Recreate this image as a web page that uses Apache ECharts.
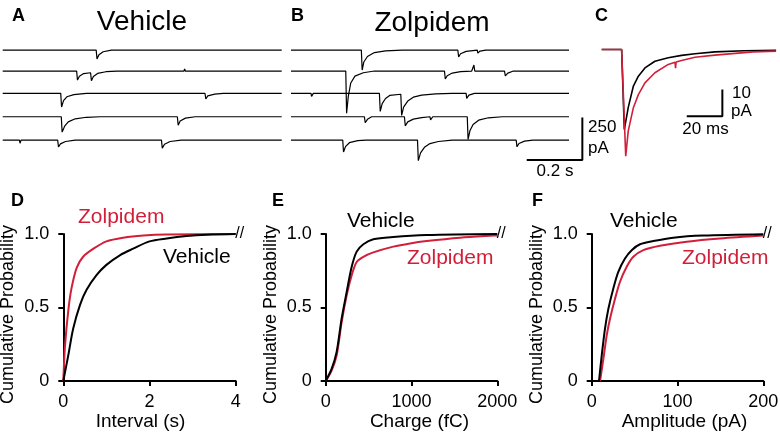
<!DOCTYPE html>
<html>
<head>
<meta charset="utf-8">
<script src="https://cdn.jsdelivr.net/npm/echarts@6/dist/echarts.min.js"></script>
<style>
  html, body { margin: 0; padding: 0; background: #fff; }
  #main { width: 780px; height: 432px; }
</style>
</head>
<body>
<div id="main"></div>
<script>
const RED = '#d11f3a';
const FONT = '"Liberation Sans", Arial, sans-serif';

// A: vehicle sweeps, [time (s), current (pA)] relative to each baseline
const vehSweep1 = [[0, 0], [0.335, 0], [0.338, -52], [0.345, -28], [0.36, -10], [0.39, 0], [1, 0]];
const vehSweep2 = [[0, 0], [0.265, 0], [0.268, -53], [0.275, -30], [0.29, -15], [0.315, -10], [0.318, -57], [0.325, -32], [0.34, -14], [0.37, -4], [0.41, 0], [0.65, 0], [0.652, 12], [0.655, 0], [1, 0]];
const vehSweep3 = [[0, 0], [0.208, 0], [0.211, -80], [0.218, -42], [0.23, -20], [0.255, -7], [0.3, 0], [0.725, 0], [0.728, -33], [0.735, -15], [0.76, -4], [0.79, 0], [1, 0]];
const vehSweep4 = [[0, 0], [0.21, 0], [0.213, -90], [0.222, -55], [0.235, -30], [0.26, -12], [0.3, -3], [0.35, 0], [0.626, 0], [0.629, -50], [0.636, -25], [0.655, -8], [0.69, 0], [1, 0]];
const vehSweep5 = [[0, 0], [0.06, 0], [0.062, -18], [0.066, 0], [0.197, 0], [0.2, -40], [0.207, -22], [0.225, -8], [0.26, 0], [0.569, 0], [0.572, -47], [0.58, -24], [0.6, -8], [0.64, 0], [1, 0]];

// B: zolpidem sweeps
const zolSweep1 = [[0, 0], [0.253, 0], [0.256, -117], [0.262, -70], [0.275, -38], [0.3, -15], [0.34, -5], [0.4, 0], [0.6, 0], [0.603, -40], [0.61, -22], [0.63, -8], [0.67, 0], [0.672, -18], [0.68, -6], [0.7, 0], [1, 0]];
const zolSweep2 = [[0, 0], [0.197, 0], [0.2, -247], [0.206, -150], [0.215, -70], [0.23, -30], [0.26, -10], [0.3, 0], [0.552, 0], [0.555, -47], [0.562, -28], [0.58, -12], [0.61, -3], [0.65, 0], [0.656, 0], [0.658, 35], [0.661, 0], [0.768, 0], [0.771, -29], [0.78, -12], [0.8, 0], [1, 0]];
const zolSweep3 = [[0, 0], [0.072, 0], [0.074, -18], [0.08, 0], [0.318, 0], [0.321, -106], [0.328, -60], [0.34, -30], [0.355, -12], [0.395, -5], [0.398, -129], [0.405, -80], [0.42, -45], [0.44, -22], [0.47, -10], [0.52, -3], [0.58, 0], [0.63, 0], [0.632, -29], [0.64, -10], [0.66, 0], [1, 0]];
const zolSweep4 = [[0, 0], [0.264, 0], [0.267, -35], [0.275, -15], [0.29, 0], [0.408, 0], [0.411, -53], [0.42, -30], [0.44, -14], [0.47, -5], [0.5, 0], [0.502, -18], [0.51, 0], [0.634, 0], [0.637, -133], [0.644, -80], [0.655, -45], [0.675, -20], [0.71, -6], [0.76, 0], [1, 0]];
const zolSweep5 = [[0, 0], [0.186, 0], [0.189, -69], [0.196, -38], [0.21, -15], [0.24, -3], [0.27, 0], [0.455, 0], [0.458, -120], [0.466, -75], [0.48, -42], [0.5, -20], [0.53, -8], [0.58, 0], [0.81, 0], [0.813, -39], [0.82, -20], [0.84, -6], [0.87, 0], [1, 0]];

const sweepOffsets = [0, -123, -254, -391, -528];

// C: averaged events, [time (ms), current (pA)]
const avgVehicle = [[0, 0], [11.2, 0], [12.7, -30], [14.9, -21.8], [17.8, -13.7], [20.6, -10], [24.3, -6.9], [29.9, -4.4], [37.4, -3.1], [44.9, -2.2], [52.4, -1.6], [63.6, -0.9], [80, -0.5], [98, -0.3]];
const avgZolpidem = [[0, 0], [11.2, 0], [13.5, -40], [14.9, -30.6], [17.8, -21.8], [20.6, -16.9], [24.3, -12.5], [29.9, -8.7], [37.4, -5.6], [41.2, -4.8], [41.5, -7], [41.8, -4.7], [44.9, -4.1], [52.4, -2.9], [63.6, -2.1], [85, -0.9], [98, -0.6]];

// scale bars (data units)
const sweepScaleBar = [[1.048, -395], [1.048, -645], [0.848, -645]];
const avgScaleBar = [[67.8, -15], [67.8, -25], [47.8, -25]];

// D-F: cumulative distributions
const intervalVehicle = [[0, 0], [0.116, 0.175], [0.23, 0.357], [0.39, 0.52], [0.54, 0.62], [0.77, 0.72], [1.0, 0.79], [1.32, 0.857], [1.62, 0.9], [2.0, 0.95], [2.4, 0.97], [2.86, 0.986], [3.33, 0.995], [4, 1]];
const intervalZolpidem = [[0, 0], [0.04, 0.24], [0.12, 0.49], [0.19, 0.63], [0.31, 0.77], [0.46, 0.845], [0.7, 0.9], [1.0, 0.95], [1.39, 0.975], [1.86, 0.99], [2.4, 0.997], [4, 1]];
const chargeVehicle = [[0, 0], [70, 0.084], [128, 0.2], [186, 0.425], [245, 0.607], [303, 0.777], [361, 0.88], [439, 0.93], [555, 0.964], [788, 0.98], [1177, 0.993], [2000, 1]];
const chargeZolpidem = [[0, 0], [70, 0.073], [128, 0.175], [186, 0.4], [245, 0.584], [303, 0.72], [361, 0.81], [439, 0.845], [555, 0.875], [788, 0.914], [983, 0.936], [1177, 0.952], [1565, 0.975], [1953, 0.989], [2000, 0.99]];
const ampVehicle = [[8.5, 0], [11.7, 0.175], [15.5, 0.357], [19.4, 0.49], [25.2, 0.63], [31, 0.743], [38.8, 0.834], [46.6, 0.89], [56.3, 0.93], [71.8, 0.952], [95, 0.975], [130, 0.989], [200, 0.998]];
const ampZolpidem = [[9.7, 0], [13.6, 0.15], [17.5, 0.31], [21.4, 0.425], [27.2, 0.56], [33, 0.675], [40.8, 0.777], [48.5, 0.845], [60.2, 0.89], [79.6, 0.92], [110.7, 0.948], [149.5, 0.97], [200, 0.99]];

const vehicleSweeps = [vehSweep1, vehSweep2, vehSweep3, vehSweep4, vehSweep5];
const zolpidemSweeps = [zolSweep1, zolSweep2, zolSweep3, zolSweep4, zolSweep5];

const myChart = echarts.init(document.getElementById('main'), null, { renderer: 'canvas' });

function hiddenAxis(min, max) {
  return { type: 'value', min: min, max: max, show: false, splitLine: { show: false } };
}

function cdfXAxis(grid, max, interval, name, namePad) {
  return {
    type: 'value', gridIndex: grid, min: 0, max: max, interval: interval, offset: 3,
    name: name, nameLocation: 'middle', nameGap: 21,
    nameTextStyle: { color: '#000', fontSize: 19, fontFamily: FONT, padding: namePad },
    axisLine: { show: true, lineStyle: { color: '#000', width: 2 } },
    axisTick: { show: true, inside: false, length: 5, lineStyle: { color: '#000', width: 2 } },
    axisLabel: { color: '#000', fontSize: 18, fontFamily: FONT, margin: 9, formatter: (v) => String(v) },
    splitLine: { show: false },
  };
}

function cdfYAxis(grid) {
  return {
    type: 'value', gridIndex: grid, min: 0, max: 1, interval: 0.5, offset: 4,
    name: 'Cumulative Probability', nameLocation: 'middle', nameGap: 42, nameRotate: 90,
    nameTextStyle: { color: '#000', fontSize: 18, fontFamily: FONT, padding: [0, 14, 0, 0] },
    axisLine: { show: true, lineStyle: { color: '#000', width: 2 } },
    axisTick: { show: true, inside: false, length: 5, lineStyle: { color: '#000', width: 2 } },
    axisLabel: {
      color: '#000', fontSize: 18, fontFamily: FONT, margin: 10,
      formatter: (v) => (v === 0 ? '0' : v.toFixed(1)),
    },
    splitLine: { show: false },
  };
}

function trace(data, color, width, xi, extra) {
  return Object.assign({
    type: 'line', xAxisIndex: xi, yAxisIndex: xi, data: data,
    showSymbol: false, symbol: 'none', silent: true,
    lineStyle: { color: color, width: width }, z: 3,
  }, extra || {});
}

function cdf(data, color, xi, withBreak, xmax) {
  const s = trace(data, color, 2, xi, { smooth: 0.3 });
  if (withBreak) {
    s.markPoint = {
      symbol: 'circle', symbolSize: 1, silent: true,
      itemStyle: { color: 'rgba(0,0,0,0)' },
      label: { show: true, formatter: '//', color: '#000', fontSize: 16, fontFamily: FONT, position: 'inside', offset: [4, 0] },
      data: [{ coord: [xmax, 1] }],
    };
  }
  return s;
}

const series = [];
vehicleSweeps.forEach((sw, i) => {
  series.push(trace(sw.map((p) => [p[0], p[1] + sweepOffsets[i]]), '#000', 1.2, 0));
});
zolpidemSweeps.forEach((sw, i) => {
  series.push(trace(sw.map((p) => [p[0], p[1] + sweepOffsets[i]]), '#000', 1.2, 1));
});
series.push(trace(sweepScaleBar, '#000', 2, 1));
series.push(trace(avgVehicle, '#000', 1.6, 2));
series.push(trace(avgZolpidem, RED, 1.6, 2));
series.push(trace(avgScaleBar, '#000', 2, 2));
series.push(cdf(intervalZolpidem, RED, 3, false));
series.push(cdf(intervalVehicle, '#000', 3, true, 4));
series.push(cdf(chargeZolpidem, RED, 4, false));
series.push(cdf(chargeVehicle, '#000', 4, true, 2000));
series.push(cdf(ampZolpidem, RED, 5, false));
series.push(cdf(ampVehicle, '#000', 5, true, 200));

function txt(text, x, y, size, color, opts) {
  return {
    type: 'text', x: x, y: y, silent: true,
    style: {
      text: text, fill: color || '#000',
      font: (opts && opts.bold ? 'bold ' : '') + size + 'px ' + FONT,
      align: (opts && opts.align) || 'left', verticalAlign: 'middle',
    },
  };
}

const option = {
  animation: false,
  backgroundColor: '#fff',
  textStyle: { fontFamily: FONT },
  grid: [
    { left: 2.7, top: 39.8, width: 279, height: 129.7, containLabel: false, outerBoundsMode: 'none' },
    { left: 291, top: 39.8, width: 305.8, height: 129.7, containLabel: false, outerBoundsMode: 'none' },
    { left: 601.7, top: 38.8, width: 174.4, height: 122.8, containLabel: false, outerBoundsMode: 'none' },
    { left: 63.3, top: 234, width: 172.4, height: 147, containLabel: false, outerBoundsMode: 'none' },
    { left: 325.7, top: 234, width: 171.6, height: 147, containLabel: false, outerBoundsMode: 'none' },
    { left: 591.7, top: 234, width: 171.6, height: 147, containLabel: false, outerBoundsMode: 'none' },
  ],
  xAxis: [
    Object.assign(hiddenAxis(0, 1), { gridIndex: 0 }),
    Object.assign(hiddenAxis(0, 1.1), { gridIndex: 1 }),
    Object.assign(hiddenAxis(0, 98), { gridIndex: 2 }),
    cdfXAxis(3, 4, 2, 'Interval (s)', [0, 18, 0, 0]),
    cdfXAxis(4, 2000, 1000, 'Charge (fC)', [0, 0, 0, 16]),
    cdfXAxis(5, 200, 100, 'Amplitude (pA)', [0, 0, 0, 14]),
  ],
  yAxis: [
    Object.assign(hiddenAxis(-700, 60), { gridIndex: 0 }),
    Object.assign(hiddenAxis(-700, 60), { gridIndex: 1 }),
    Object.assign(hiddenAxis(-42, 4), { gridIndex: 2 }),
    cdfYAxis(3),
    cdfYAxis(4),
    cdfYAxis(5),
  ],
  series: series,
  graphic: [
    txt('A', 12, 16, 18, '#000', { bold: true }),
    txt('B', 291, 16, 18, '#000', { bold: true }),
    txt('C', 595, 16, 18, '#000', { bold: true }),
    txt('D', 11, 201, 18, '#000', { bold: true }),
    txt('E', 272, 201, 18, '#000', { bold: true }),
    txt('F', 532, 201, 18, '#000', { bold: true }),
    txt('Vehicle', 142, 22, 28, '#000', { align: 'center' }),
    txt('Zolpidem', 432, 23, 28, '#000', { align: 'center' }),
    txt('250', 588, 127.5, 17),
    txt('pA', 588, 148, 17),
    txt('0.2 s', 555, 171, 17, '#000', { align: 'center' }),
    txt('10', 732, 93.5, 17),
    txt('pA', 731, 111, 17),
    txt('20 ms', 705.5, 129, 17, '#000', { align: 'center' }),
    txt('Zolpidem', 78, 217, 21, RED),
    txt('Vehicle', 163, 257, 21, '#000'),
    txt('Vehicle', 347, 221, 21, '#000'),
    txt('Zolpidem', 407, 258, 21, RED),
    txt('Vehicle', 610, 221, 21, '#000'),
    txt('Zolpidem', 682, 258, 21, RED),
  ],
};

myChart.setOption(option);
</script>
</body>
</html>
